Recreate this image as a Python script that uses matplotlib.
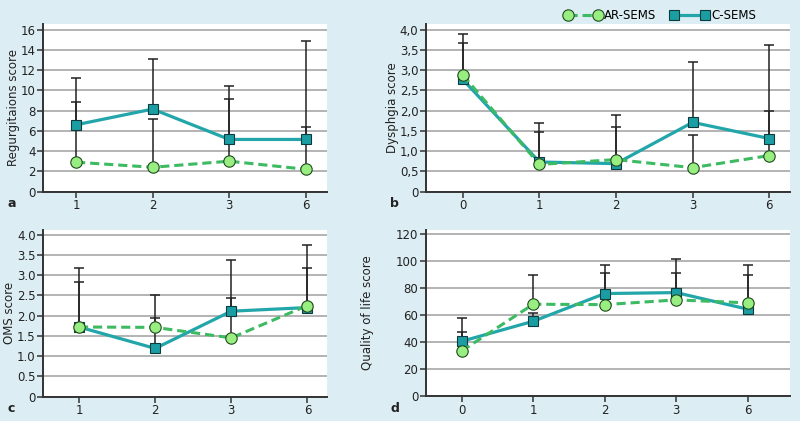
import matplotlib
matplotlib.use('Agg')
import matplotlib.pyplot as plt
from matplotlib.lines import Line2D
import numpy as np

plt.rcParams['font.family'] = ['Liberation Sans Narrow', 'DejaVu Sans']

# a - regurgitations
months_a = ['1', '2', '3', '6']
regurg_ar = [2.9, 2.4, 3.0, 2.2]
regurg_ar_sd = [5.95, 4.8, 6.1, 4.2]
regurg_c = [6.6, 8.15, 5.15, 5.15]
regurg_c_sd = [4.6, 4.95, 5.25, 9.75]

# b - dysphagia
months_b = ['0', '1', '2', '3', '6']
dys_ar = [2.88, 0.67, 0.79, 0.59, 0.89]
dys_ar_sd = [1.01, 0.81, 1.10, 0.81, 1.11]
dys_c = [2.77, 0.73, 0.69, 1.71, 1.31]
dys_c_sd = [0.91, 0.97, 0.91, 1.49, 2.30]

# c - OMS
months_c = ['1', '2', '3', '6']
oms_ar = [1.72, 1.71, 1.45, 2.25]
oms_ar_sd = [1.11, 0.81, 1.92, 1.49]
oms_c = [1.72, 1.19, 2.11, 2.2]
oms_c_sd = [1.46, 0.76, 0.33, 0.97]

# d - quality of life
months_d = ['0', '1', '2', '3', '6']
qol_ar = [33.5, 68, 67.7, 71.2, 69]
qol_ar_sd = [24.4, 21.4, 23.7, 20.2, 28.3]
qol_c = [40.6, 55.4, 75.9, 76.6, 64.3]
qol_c_sd = [6.9, 6.4, 21.4, 24.6, 25.6]

BG = '#dcedf3'
TEAL_FILL = '#1a9ea3'
TEAL_LINE = '#22a6aa'
GREEN_FILL = '#98ee80'
GREEN_LINE = '#3dba62'
GRID = '#b3b3b3'
DARK = '#222222'


def draw_panel(fig, rect, months, ar, ar_sd, c, c_sd, ylim, yticks, yticklabels,
               xlim, ylabel, letter, letter_pos, label_x):
    ax = fig.add_axes(rect)
    ax.set_facecolor('white')
    x = np.arange(len(months))

    for vals, sd in [(c, c_sd), (ar, ar_sd)]:
        ax.errorbar(x, vals, yerr=[np.zeros(len(sd)), sd], fmt='none',
                    ecolor=DARK, elinewidth=1.1, capsize=3.5, capthick=1.1, zorder=2)

    ax.plot(x, c, color=TEAL_LINE, lw=2.3, marker='s', ms=7.2,
            mfc=TEAL_FILL, mec='#0d3b3d', mew=0.8, zorder=3)
    ax.plot(x, ar, color=GREEN_LINE, lw=2.2, ls=(0, (3, 1.6)), marker='o', ms=8.2,
            mfc=GREEN_FILL, mec='#1f4a1f', mew=0.8, zorder=4)

    ax.set_xlim(*xlim)
    ax.set_ylim(*ylim)
    ax.set_xticks(x)
    ax.set_xticklabels(months)
    ax.set_yticks(yticks)
    ax.set_yticklabels(yticklabels)
    ax.yaxis.grid(True, color=GRID, lw=1.4)
    ax.set_axisbelow(True)
    for s in ['top', 'right']:
        ax.spines[s].set_visible(False)
    for s in ['left', 'bottom']:
        ax.spines[s].set_color('#333333')
        ax.spines[s].set_linewidth(1.4)
    ax.tick_params(axis='both', labelsize=8.5, colors='#333333', labelcolor=DARK,
                   length=4, width=1.1, pad=1.5)
    # y label centred on the axes, x fixed in figure coordinates
    fig.text(label_x, rect[1] + rect[3] / 2, ylabel, fontsize=8.5, color=DARK,
             rotation=90, ha='center', va='center')
    fig.text(letter_pos[0], letter_pos[1], letter, fontsize=9, fontweight='bold',
             family='DejaVu Sans', color=DARK, va='bottom', ha='left')
    return ax


def draw_figure():
    fig = plt.figure(figsize=(8, 4.21), dpi=100)
    fig.patch.set_facecolor(BG)

    draw_panel(fig, [0.054, 0.545, 0.355, 0.398], months_a,
               regurg_ar, regurg_ar_sd, regurg_c, regurg_c_sd,
               (0, 16.56), range(0, 17, 2), [str(v) for v in range(0, 17, 2)],
               (-0.43, 3.28), 'Regurgitaions score', 'a', (0.010, 0.502), 0.017)

    b_ticks = np.arange(0, 4.01, 0.5)
    b_labels = ['0'] + [('%.1f' % v).replace('.', ',') for v in b_ticks[1:]]
    draw_panel(fig, [0.5325, 0.545, 0.455, 0.398], months_b,
               dys_ar, dys_ar_sd, dys_c, dys_c_sd,
               (0, 4.14), b_ticks, b_labels,
               (-0.48, 4.27), 'Dysphgia score', 'b', (0.488, 0.502), 0.491)

    c_labels = ['0'] + ['%.1f' % v for v in b_ticks[1:]]
    draw_panel(fig, [0.054, 0.058, 0.355, 0.396], months_c,
               oms_ar, oms_ar_sd, oms_c, oms_c_sd,
               (0, 4.12), b_ticks, c_labels,
               (-0.47, 3.26), 'OMS score', 'c', (0.010, 0.015), 0.012)

    draw_panel(fig, [0.5325, 0.059, 0.455, 0.395], months_d,
               qol_ar, qol_ar_sd, qol_c, qol_c_sd,
               (0, 123), range(0, 121, 20), [str(v) for v in range(0, 121, 20)],
               (-0.5, 4.59), 'Quality of life score', 'd', (0.488, 0.015), 0.460)

    handles = [
        Line2D([], [], color=GREEN_LINE, lw=2.2, ls=(0, (3, 1.6)), marker='o', ms=8.2,
               mfc=GREEN_FILL, mec='#1f4a1f', mew=0.8),
        Line2D([], [], color=TEAL_LINE, lw=2.3, marker='s', ms=7.2,
               mfc=TEAL_FILL, mec='#0d3b3d', mew=0.8),
    ]
    fig.legend(handles, ['AR-SEMS', 'C-SEMS'], loc='center', ncol=2, frameon=False,
               bbox_to_anchor=(0.825, 0.962), numpoints=2, handlelength=3.2,
               handletextpad=0.2, columnspacing=1.2, fontsize=8.5)

    fig.savefig('out.png', dpi=100, facecolor=BG)


if __name__ == '__main__':
    draw_figure()
